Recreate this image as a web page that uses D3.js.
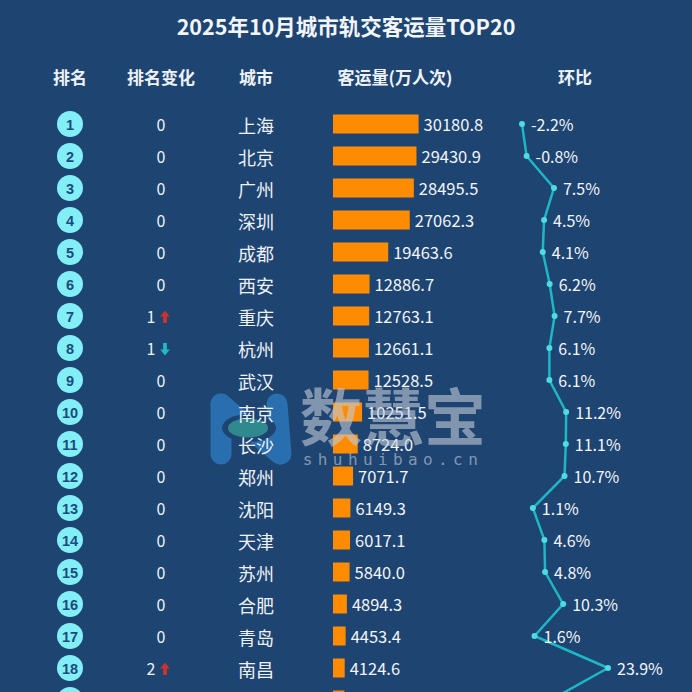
<!DOCTYPE html>
<html><head><meta charset="utf-8">
<script src="https://cdn.jsdelivr.net/npm/d3@7/dist/d3.min.js"></script>
<style>
html,body{margin:0;padding:0;background:#1e4471;overflow:hidden;}
svg{display:block;}
</style></head>
<body>
<script>
const titleText = "2025年10月城市轨交客运量TOP20";
const headers = ["排名","排名变化","城市","客运量(万人次)","环比"];
const ranks = [1,2,3,4,5,6,7,8,9,10,11,12,13,14,15,16,17,18,19,20];
const cities = ["上海","北京","广州","深圳","成都","西安","重庆","杭州","武汉","南京","长沙","郑州","沈阳","天津","苏州","合肥","青岛","南昌","宁波","昆明"];
const rankChange = [0,0,0,0,0,0,1,1,0,0,0,0,0,0,0,0,0,2,1,1];
const changeDir = ["","","","","","","up","down","","","","","","","","","","up","down","down"];
const volumes = [30180.8,29430.9,28495.5,27062.3,19463.6,12886.7,12763.1,12661.1,12528.5,10251.5,8724.0,7071.7,6149.3,6017.1,5840.0,4894.3,4453.4,4124.6,4010.2,3905.8];
const mom = [-2.2,-0.8,7.5,4.5,4.1,6.2,7.7,6.1,6.1,11.2,11.1,10.7,1.1,4.6,4.8,10.3,1.6,23.9,6.5,5.0];

const W = 692, H = 692;
const cjk = "'Noto Sans CJK SC','Microsoft YaHei',sans-serif";
const svg = d3.select("body").append("svg").attr("width", W).attr("height", H);
svg.append("rect").attr("width", W).attr("height", H).attr("fill", "#1e4471");

const y = d3.scalePoint().domain(ranks).range([124, 124 + 32 * (ranks.length - 1)]);
const colX = [70, 161, 256, 395, 575];
const barX0 = 333;
const xBar = d3.scaleLinear().domain([0, d3.max(volumes)]).range([0, 85.6]);
const xLine = d3.scaleLinear().domain([-2.2, 23.9]).range([522, 608]);

const rows = ranks.map((r, i) => ({r, city: cities[i], ch: rankChange[i], dir: changeDir[i], v: volumes[i], m: mom[i]}));

// title
svg.append("text").attr("x", 346).attr("y", 25).attr("text-anchor", "middle")
  .attr("dominant-baseline", "central").attr("fill", "#f2f5f9")
  .attr("font-family", cjk).attr("font-weight", "bold").attr("font-size", 21.5)
  .text(titleText);

// headers
svg.append("g").selectAll("text").data(headers).join("text")
  .attr("x", (d, i) => colX[i]).attr("y", 76).attr("text-anchor", "middle")
  .attr("dominant-baseline", "central").attr("fill", "#eef2f7")
  .attr("font-family", cjk).attr("font-weight", "bold").attr("font-size", 17)
  .text(d => d);

// watermark logo (behind data)
const logo = svg.append("g").attr("opacity", 0.7);
[[221,404,221,454],[221,404,280,454],[277,404,281,454]].forEach(s => {
  logo.append("line").attr("x1", s[0]).attr("y1", s[1]).attr("x2", s[2]).attr("y2", s[3])
    .attr("stroke", "#2f80c8").attr("stroke-width", 21).attr("stroke-linecap", "round");
});
logo.append("ellipse").attr("cx", 249).attr("cy", 428).attr("rx", 27).attr("ry", 14).attr("fill", "#1e4471");
logo.append("ellipse").attr("cx", 248).attr("cy", 428).attr("rx", 20).attr("ry", 9.5).attr("fill", "#3aa79e");

// rank circles
const g = svg.append("g");
g.selectAll("circle.rank").data(rows).join("circle").attr("class", "rank")
  .attr("cx", colX[0]).attr("cy", d => y(d.r)).attr("r", 13).attr("fill", "#82eff6");
g.selectAll("text.rank").data(rows).join("text").attr("class", "rank")
  .attr("x", colX[0]).attr("y", d => y(d.r) + 1).attr("text-anchor", "middle")
  .attr("dominant-baseline", "central").attr("fill", "#1d4a7d")
  .attr("font-family", "'Liberation Sans',Arial,sans-serif").attr("font-weight", "bold").attr("font-size", 14.5)
  .text(d => d.r);

// rank change
g.selectAll("text.chg").data(rows).join("text").attr("class", "chg")
  .attr("x", d => d.dir ? 151 : colX[1]).attr("y", d => y(d.r))
  .attr("text-anchor", "middle").attr("dominant-baseline", "central")
  .attr("fill", "#eef2f7").attr("font-family", cjk).attr("font-size", 16)
  .text(d => d.ch);
const arrowUp = "M0,-6.5 L4.8,-0.5 L1.9,-0.5 L1.9,6 L-1.9,6 L-1.9,-0.5 L-4.8,-0.5 Z";
g.selectAll("path.arrow").data(rows.filter(d => d.dir)).join("path").attr("class", "arrow")
  .attr("d", arrowUp)
  .attr("transform", d => `translate(165,${y(d.r) + 1})` + (d.dir === "down" ? " scale(1,-1)" : ""))
  .attr("fill", d => d.dir === "up" ? "#c9342c" : "#22b6c6");

// city
g.selectAll("text.city").data(rows).join("text").attr("class", "city")
  .attr("x", colX[2]).attr("y", d => y(d.r) + 1).attr("text-anchor", "middle")
  .attr("dominant-baseline", "central").attr("fill", "#eef2f7")
  .attr("font-family", cjk).attr("font-size", 18)
  .text(d => d.city);

// bars
g.selectAll("rect.bar").data(rows).join("rect").attr("class", "bar")
  .attr("x", barX0).attr("y", d => y(d.r) - 9.5).attr("height", 19)
  .attr("width", d => xBar(d.v)).attr("fill", "#ff8c00");
g.selectAll("text.val").data(rows).join("text").attr("class", "val")
  .attr("x", d => barX0 + xBar(d.v) + 5).attr("y", d => y(d.r))
  .attr("dominant-baseline", "central").attr("fill", "#f2f5f9")
  .attr("font-family", cjk).attr("font-size", 16.5)
  .text(d => d.v.toFixed(1));

// line
const line = d3.line().x(d => xLine(d.m)).y(d => y(d.r));
g.append("path").datum(rows).attr("d", line).attr("fill", "none")
  .attr("stroke", "#1fb6c6").attr("stroke-width", 2.5);
g.selectAll("circle.dot").data(rows).join("circle").attr("class", "dot")
  .attr("cx", d => xLine(d.m)).attr("cy", d => y(d.r)).attr("r", 3)
  .attr("fill", "#4fdbe6");
g.selectAll("text.pct").data(rows).join("text").attr("class", "pct")
  .attr("x", d => xLine(d.m) + 9).attr("y", d => y(d.r))
  .attr("dominant-baseline", "central").attr("fill", "#f2f5f9")
  .attr("font-family", cjk).attr("font-size", 16)
  .text(d => d.m.toFixed(1) + "%");

// watermark text on top
const wm2 = svg.append("g").attr("opacity", 0.6).attr("pointer-events", "none");
wm2.append("text").attr("x", 393).attr("y", 414).attr("text-anchor", "middle")
  .attr("dominant-baseline", "central").attr("fill", "#c3ccd9")
  .attr("font-family", cjk).attr("font-weight", "bold").attr("font-size", 62)
  .text("数慧宝");
wm2.append("text").attr("x", 393).attr("y", 459).attr("text-anchor", "middle")
  .attr("dominant-baseline", "central").attr("fill", "#c3ccd9")
  .attr("font-family", "'DejaVu Sans Mono',monospace").attr("font-size", 16)
  .attr("letter-spacing", 5.4)
  .text("shuhuibao.cn");
</script>
</body></html>
